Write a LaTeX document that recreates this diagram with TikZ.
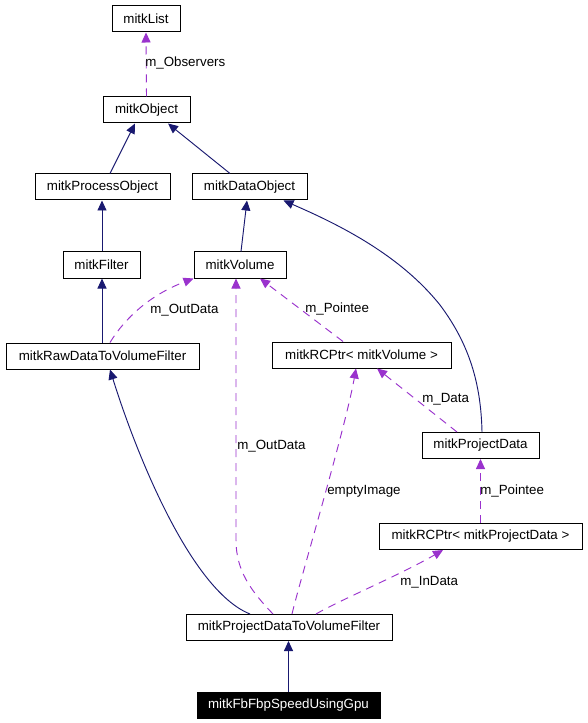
\documentclass[tikz,border=0pt]{standalone}
\usepackage{fontspec}
\setmainfont{Liberation Sans}
\usetikzlibrary{arrows.meta,calc}
\definecolor{navy}{HTML}{191970}
\definecolor{orchid}{HTML}{9A32CD}
\tikzset{
  cls/.style={draw=black, line width=0.75pt, fill=white, inner sep=0pt, minimum height=19.5pt, font=\fontsize{10}{12}\selectfont},
  bw/.style={minimum width=#1*0.75pt},
  inh/.style={draw=navy, line width=0.7pt, -{Triangle[length=7.5pt,width=6.75pt]}, color=navy},
  use/.style={draw=orchid, line width=0.7pt, dash pattern=on 6pt off 4.5pt, -{Triangle[length=7.5pt,width=6.75pt]}, color=orchid},
  lbl/.style={anchor=west, inner sep=0pt, font=\fontsize{10}{12}\selectfont, text=black}
}
\begin{document}
\begin{tikzpicture}[x=0.75pt,y=-0.75pt]
\useasboundingbox[fill=white] (0,0) rectangle (587,723);
% nodes
\node[cls, bw=68] (list) at (146,19) {mitkList};
\node[cls, bw=87] (obj) at (146.5,110) {mitkObject};
\node[cls, bw=135] (proc) at (102.5,187) {mitkProcessObject};
\node[cls, bw=115] (data) at (249.5,187) {mitkDataObject};
\node[cls, bw=77] (filter) at (101.5,265) {mitkFilter};
\node[cls, bw=92] (vol) at (240,265) {mitkVolume};
\node[cls, bw=193] (raw) at (102.5,356) {mitkRawDataToVolumeFilter};
\node[cls, bw=179] (rcv) at (361.5,355) {mitkRCPtr< mitkVolume >};
\node[cls, bw=117] (pd) at (480.5,445.5) {mitkProjectData};
\node[cls, bw=203] (rcpd) at (480.5,536.5) {mitkRCPtr< mitkProjectData >};
\node[cls, bw=206] (pdtvf) at (289,627.5) {mitkProjectDataToVolumeFilter};
\node[cls, bw=183, fill=black, text=white] (fb) at (288.5,705) {mitkFbFbpSpeedUsingGpu};
% inheritance edges
\draw[inh] ($(proc.north)+(7.5,0)$) -- ($(obj.south)+(-11.5,0)$);
\draw[inh] ($(data.north)+(-19.5,0)$) -- ($(obj.south)+(21.5,0)$);
\draw[inh] ($(filter.north)+(0.5,0)$) -- ($(proc.south)+(-0.5,0)$);
\draw[inh] ($(vol.north)+(1,0)$) -- ($(data.south)+(-2.5,0)$);
\draw[inh] ($(pd.north)+(1.5,0)$) .. controls (481,385) and (470,345) .. (440,305)
  .. controls (400,255) and (340,225) .. ($(data.south east)+(-24,0)$);
\draw[inh] ($(raw.north)+(-0.5,0)$) -- ($(filter.south)+(0.5,0)$);
\draw[inh] ($(pdtvf.north)+(-39,0)$) .. controls (190,590) and (135,450) .. ($(raw.south)+(7.5,0)$);
\draw[inh] (fb.north) -- ($(pdtvf.south)+(-0.5,0)$);
% usage edges
\draw[use] (obj.north) -- (list.south);
\node[lbl] (l1) at (145,63) {m\_Observers};
\draw[use] ($(raw.north)+(7.5,0)$) .. controls (125,318) and (150,295) .. (vol.south west);
\node[lbl] (l2) at (150,310) {m\_OutData};
\draw[use] ($(rcv.north)+(-18.5,0)$) -- ($(vol.south)+(20,0)$);
\node[lbl] (l3) at (305,309) {m\_Pointee};
\draw[use] ($(pd.north)+(-23.5,0)$) -- ($(rcv.south)+(15.5,0)$);
\node[lbl] (l4) at (422,399) {m\_Data};
\draw[use] (rcpd.north) -- (pd.south);
\node[lbl] (l5) at (480,491) {m\_Pointee};
\draw[use] ($(pdtvf.north)+(-16,0)$) .. controls (250,590) and (236,570) .. (236,540) -- ($(vol.south)+(-4,0)$);
\node[lbl] (l6) at (237,446) {m\_OutData};
\draw[use] ($(pdtvf.north)+(3,0)$) .. controls (300,580) and (345,430) .. ($(rcv.south)+(-5.5,0)$);
\node[lbl] (l7) at (327,491) {emptyImage};
\draw[use] ($(pdtvf.north)+(27,0)$) .. controls (340,600) and (400,575) .. ($(rcpd.south)+(-37.5,0)$);
\node[lbl] (l8) at (400,582) {m\_InData};
\end{tikzpicture}
\end{document}
